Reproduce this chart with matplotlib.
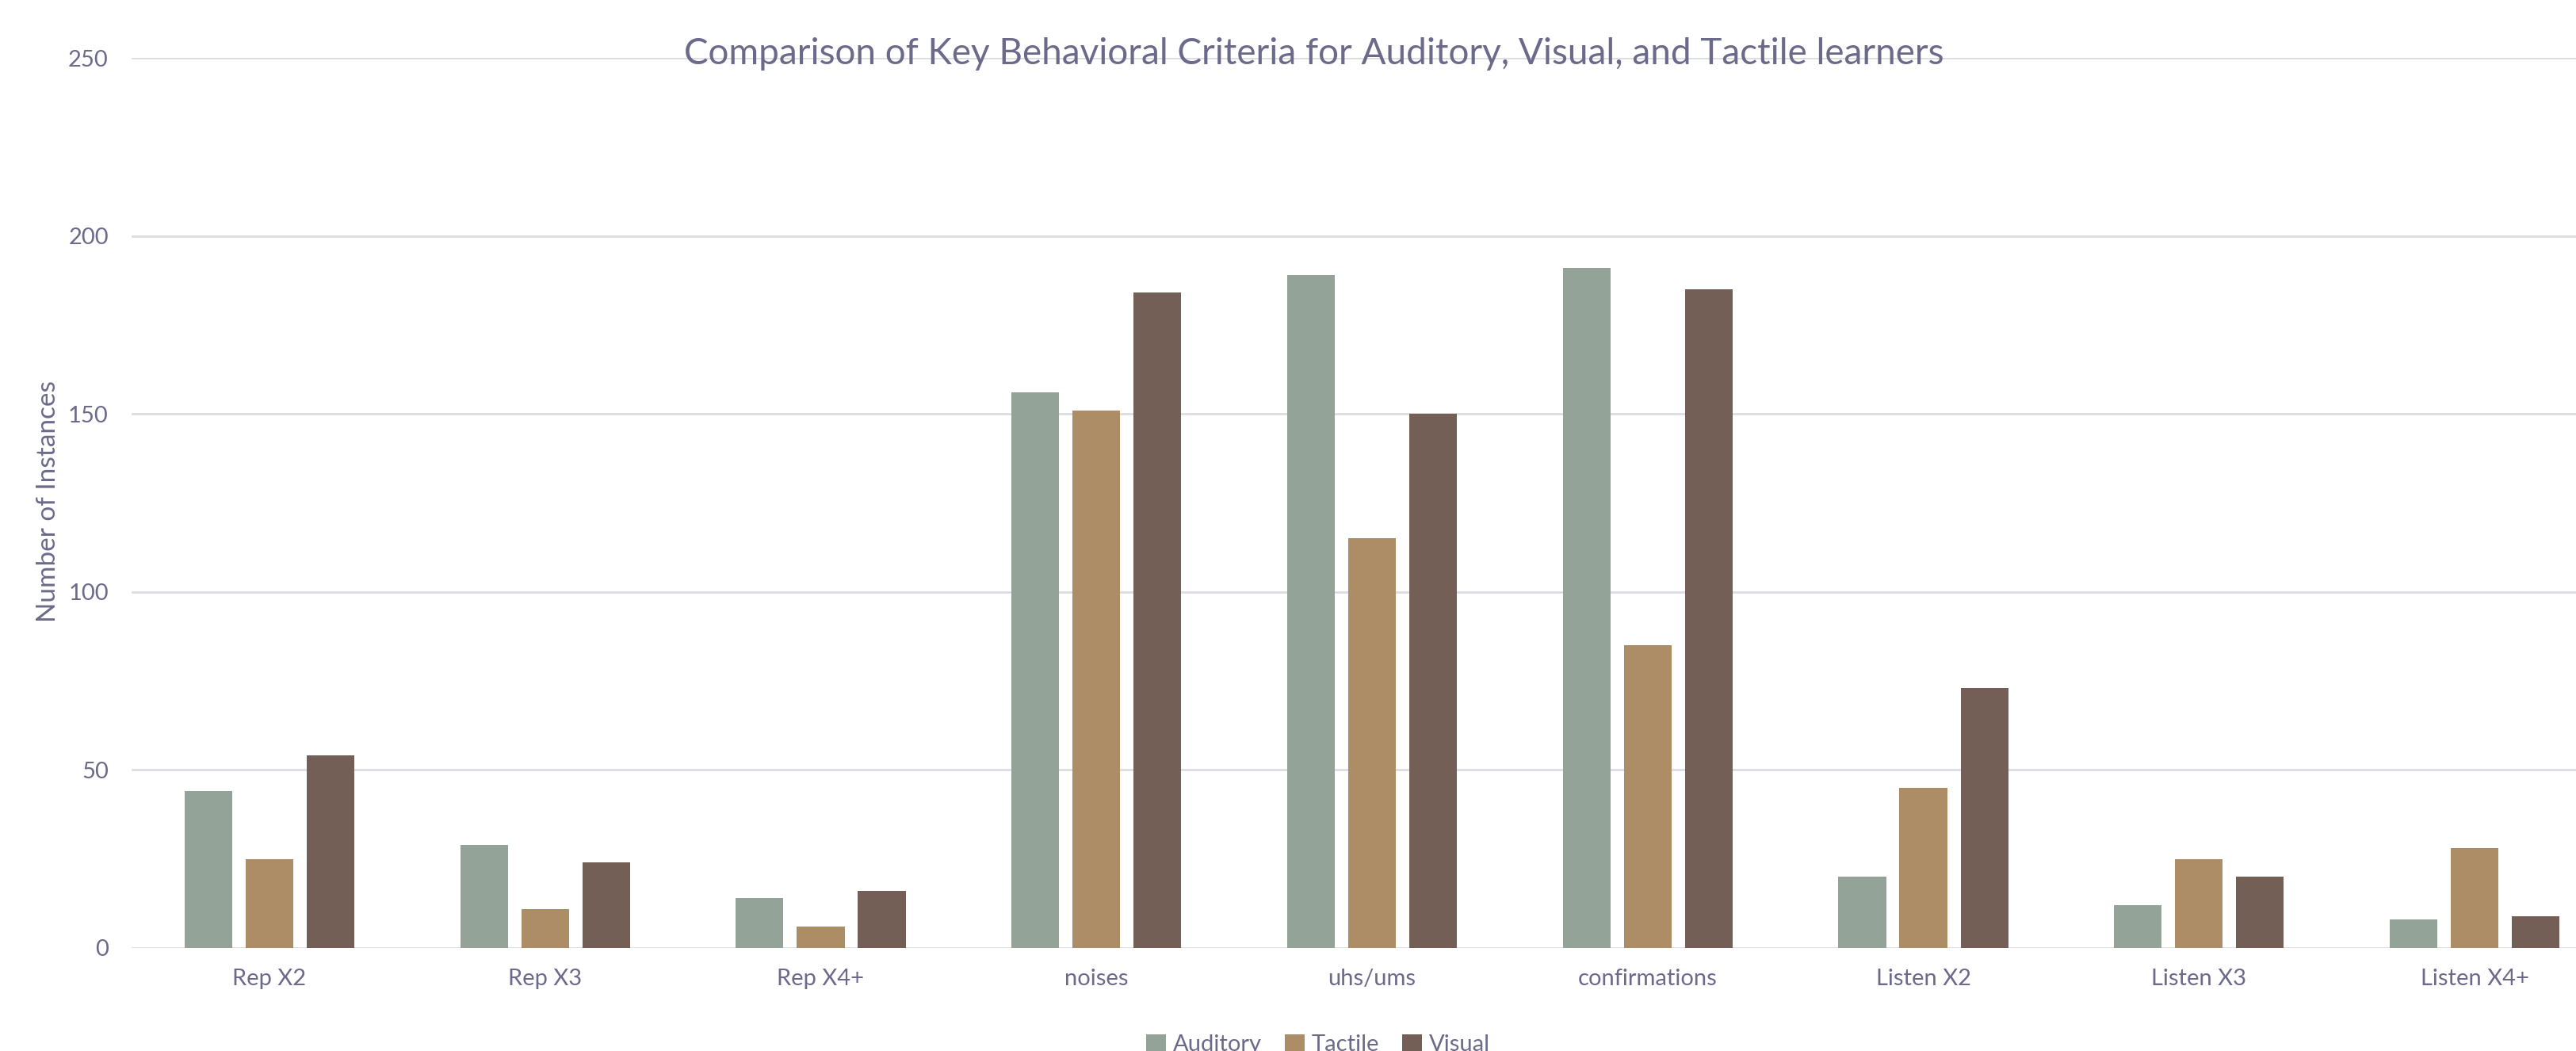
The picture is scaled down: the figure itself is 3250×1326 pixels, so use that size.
import matplotlib
matplotlib.use("Agg")
import matplotlib.pyplot as plt
import numpy as np

# data
categories = ["Rep X2", "Rep X3", "Rep X4+", "noises", "uhs/ums",
              "confirmations", "Listen X2", "Listen X3", "Listen X4+"]
auditory = [44, 29, 14, 156, 189, 191, 20, 12, 8]
tactile = [25, 11, 6, 151, 115, 85, 45, 25, 28]
visual = [54, 24, 16, 184, 150, 185, 73, 20, 9]

series_names = ["Auditory", "Tactile", "Visual"]
colors = ["#94A397", "#AC8D65", "#735F55"]
text_col = "#6B6A8A"
grid_col = "#DCDCE3"

plt.rcParams['font.family'] = ['Lato', 'DejaVu Sans']

W, H = 3250, 1326
fig = plt.figure(figsize=(W / 100, H / 100), dpi=100)
# plot area runs slightly past the right edge (chart is cropped there)
left, right = 166, 3296
bottom, top = 1196, 73
ax = fig.add_axes([left / W, 1 - bottom / H, (right - left) / W, (bottom - top) / H])

x = np.arange(len(categories))
bw = 0.173
step = 0.2215
for i, (vals, name, c) in enumerate(zip([auditory, tactile, visual], series_names, colors)):
    ax.bar(x + (i - 1) * step, vals, width=bw, color=c, label=name, zorder=3)

ax.set_xlim(-0.5, len(categories) - 0.5)
ax.set_ylim(0, 250)
ax.set_yticks([0, 50, 100, 150, 200, 250])
ax.set_xticks(x)
ax.set_xticklabels(categories)
for s in ax.spines.values():
    s.set_visible(False)
ax.yaxis.grid(True, color=grid_col, linewidth=2, zorder=0)
ax.set_axisbelow(True)
ax.tick_params(axis='both', length=0, labelsize=21, colors=text_col)
ax.tick_params(axis='x', pad=19)
ax.tick_params(axis='y', pad=21)

fig.text(61 / W, 1 - 633 / H, "Number of Instances", rotation=90,
         ha='center', va='center', fontsize=24, color=text_col)
fig.text(1658 / W, 1 - 68 / H,
         "Comparison of Key Behavioral Criteria for Auditory, Visual, and Tactile learners",
         ha='center', va='center', fontsize=33, color=text_col)

leg = fig.legend(loc='center', bbox_to_anchor=(1663 / W, 1 - 1318 / H), ncol=3,
                 frameon=False, fontsize=21, handlelength=0.85, handleheight=0.85,
                 handletextpad=0.3, columnspacing=1.0)
for t in leg.get_texts():
    t.set_color(text_col)

fig.savefig("out.png", dpi=100, facecolor="white")
